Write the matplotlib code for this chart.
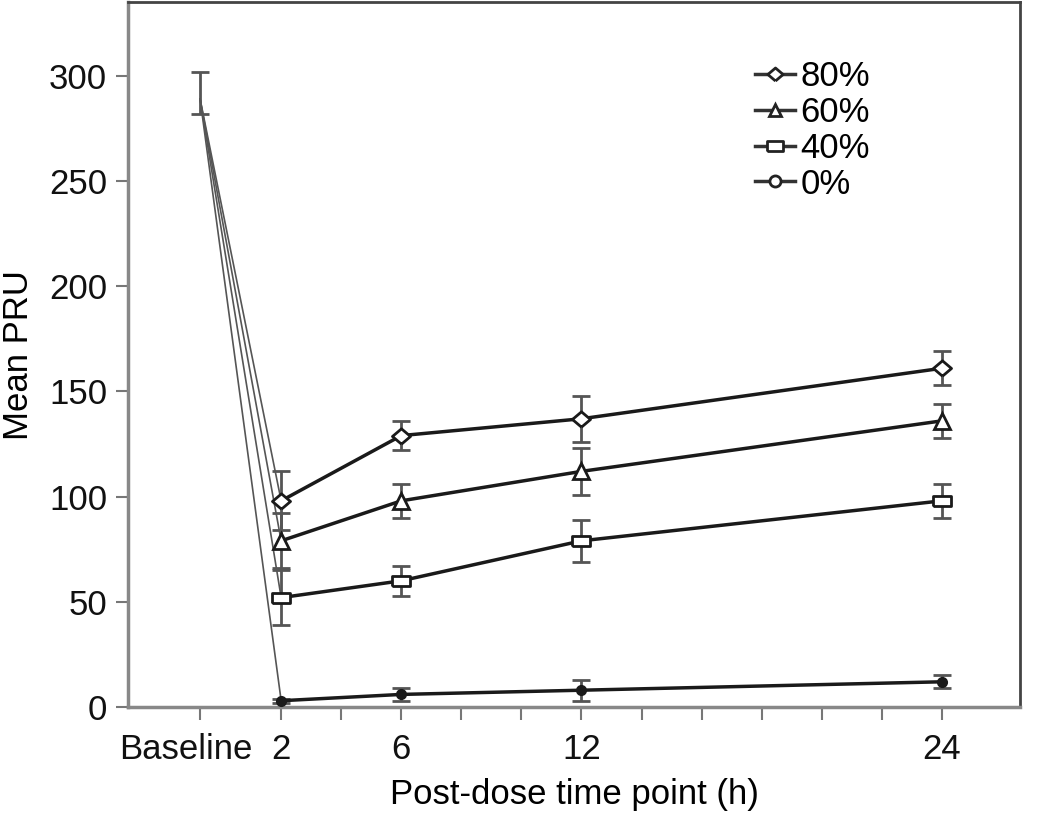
import matplotlib
matplotlib.use("Agg")
import matplotlib.pyplot as plt
import matplotlib.transforms as mtransforms
import numpy as np

plt.rcParams['font.family'] = ['Liberation Sans', 'DejaVu Sans']

# Data
time_labels = ["Baseline", "2", "6", "12", "24"]
time_pos = [-0.7, 2, 6, 12, 24]
baseline_val = 292
baseline_err = 10
series_names = ["80%", "60%", "40%", "0%"]
markers = ["D", "^", "s", "o"]
post_times = [2, 6, 12, 24]
vals_80 = [98, 129, 137, 161]
err_80 = [14, 7, 11, 8]
vals_60 = [79, 98, 112, 136]
err_60 = [13, 8, 11, 8]
vals_40 = [52, 60, 79, 98]
err_40 = [13, 7, 10, 8]
vals_0 = [3, 6, 8, 12]
err_0 = [1, 3, 5, 3]
values = [vals_80, vals_60, vals_40, vals_0]
errors = [err_80, err_60, err_40, err_0]
minor_ticks = [4, 8, 10, 14, 16, 18, 20, 22]

rect_marker = [(-1, -0.6), (1, -0.6), (1, 0.6), (-1, 0.6), (-1, -0.6)]
diam_marker = [(0, -0.85), (1, 0), (0, 0.85), (-1, 0), (0, -0.85)]
marker_map = {"D": diam_marker, "^": "^", "s": rect_marker, "o": "o"}

fig = plt.figure(figsize=(10.5, 8.14), dpi=100)
ax = fig.add_axes([0.1219, 0.1314, 0.8495, 0.866])

line_col = "#1a1a1a"
err_col = "#555555"

# thin lines from baseline to first post-dose point
for v in values:
    ax.plot([time_pos[0], post_times[0]], [baseline_val - 3, v[0]], color="#555555", lw=1.2, zorder=2)

ax.errorbar([time_pos[0]], [baseline_val], yerr=[baseline_err], fmt='none',
            ecolor=err_col, elinewidth=2, capsize=6.5, capthick=2, zorder=3)

handles = []
for name, mk, v, e in zip(series_names, markers, values, errors):
    m = marker_map[mk]
    if mk == "o":
        ms, mfc = 6, line_col
    elif mk == "^":
        ms, mfc = 11, "white"
    else:
        ms, mfc = 13, "white"
    ax.errorbar(post_times, v, yerr=e, fmt='none', ecolor=err_col,
                elinewidth=2, capsize=6.5, capthick=2, zorder=3)
    ax.plot(post_times, v, color=line_col, lw=2.5, marker=m, ms=ms,
            mfc=mfc, mec=line_col, mew=2, zorder=4)
    hms = {"D": 11, "^": 9, "s": 11, "o": 8}[mk]
    h, = ax.plot([], [], color="#333333", lw=2.5, marker=m, ms=hms,
                 mfc="white", mec="#222222", mew=2)
    handles.append(h)

ax.set_xlim(-3.1, 26.6)
ax.set_ylim(0, 335)
ax.set_xticks(time_pos)
ax.set_xticklabels(time_labels)
ax.set_xticks(minor_ticks, minor=True)
ax.set_yticks([0, 50, 100, 150, 200, 250, 300])

ax.tick_params(axis='both', which='both', direction='out', length=9, width=1.5,
               colors="#777777", labelcolor="#111111", labelsize=25)
ax.tick_params(axis='x', pad=10)
ax.tick_params(axis='y', pad=6)

# shift the Baseline label slightly left
lbl = ax.get_xticklabels()[0]
lbl.set_transform(lbl.get_transform() + mtransforms.ScaledTranslation(-14 / 100, 0, fig.dpi_scale_trans))

for s in ["left", "bottom"]:
    ax.spines[s].set_color("#888888")
    ax.spines[s].set_linewidth(2.5)
for s in ["top", "right"]:
    ax.spines[s].set_color("#444444")
    ax.spines[s].set_linewidth(2)

ax.set_ylabel("Mean PRU", fontsize=25, labelpad=10)
ax.set_xlabel("Post-dose time point (h)", fontsize=25, labelpad=8)

leg = ax.legend(handles, series_names, loc="upper left", bbox_to_anchor=(0.676, 0.952),
                frameon=False, fontsize=25, handlelength=1.15, handletextpad=0.15,
                labelspacing=0.08, borderpad=0.2)

fig.savefig("out.png", dpi=100)
